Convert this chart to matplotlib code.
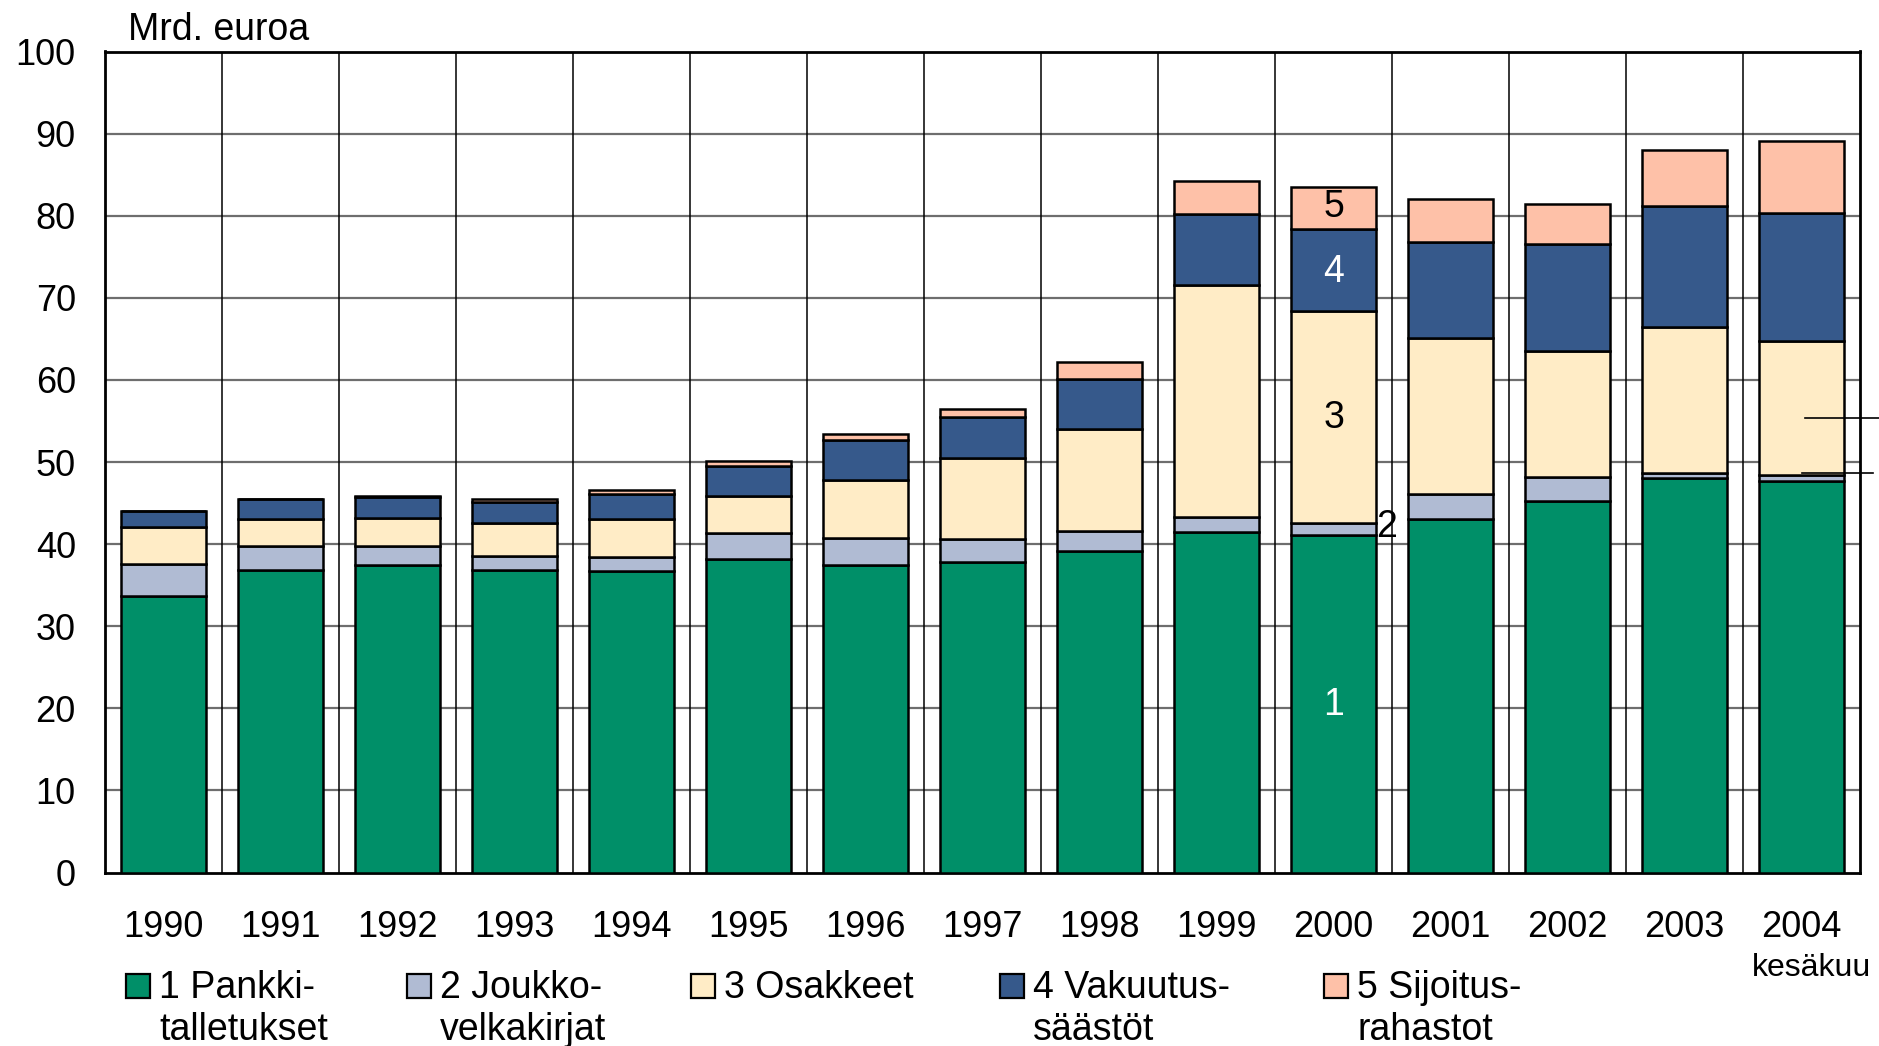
import matplotlib
matplotlib.use("Agg")
import matplotlib.pyplot as plt
from matplotlib.patches import Rectangle
import numpy as np

plt.rcParams['font.family'] = ['Liberation Sans', 'DejaVu Sans']

years = ["1990", "1991", "1992", "1993", "1994", "1995", "1996", "1997",
         "1998", "1999", "2000", "2001", "2002", "2003", "2004"]
pankki = [33.7, 36.8, 37.45, 36.85, 36.7, 38.2, 37.4, 37.85, 39.2, 41.5, 41.1, 43.1, 45.2, 48.0, 47.7]
joukko = [3.9, 3.0, 2.3, 1.65, 1.7, 3.1, 3.4, 2.8, 2.45, 1.8, 1.5, 3.05, 3.0, 0.7, 0.7]
osakkeet = [4.5, 3.3, 3.4, 4.1, 4.7, 4.6, 7.0, 9.8, 12.35, 28.2, 25.75, 18.9, 15.35, 17.75, 16.3]
vakuutus = [1.95, 2.4, 2.6, 2.5, 3.0, 3.6, 4.85, 5.0, 6.15, 8.7, 10.0, 11.75, 13.0, 14.75, 15.65]
sijoitus = [0.0, 0.0, 0.1, 0.4, 0.55, 0.6, 0.75, 1.0, 2.0, 4.0, 5.15, 5.25, 4.85, 6.8, 8.75]

series = [pankki, joukko, osakkeet, vakuutus, sijoitus]
legend_line1 = ["1 Pankki-", "2 Joukko-", "3 Osakkeet", "4 Vakuutus-", "5 Sijoitus-"]
legend_line2 = ["talletukset", "velkakirjat", "", "säästöt", "rahastot"]
colors = ["#008f68", "#b0bbd3", "#ffecc6", "#36598b", "#fec1a8"]
yticks = [0, 10, 20, 30, 40, 50, 60, 70, 80, 90, 100]

W, H = 1879, 1046
fig = plt.figure(figsize=(W / 100, H / 100), dpi=100)
ax = fig.add_axes([105 / W, 1 - 872.5 / H, (1860 - 105) / W, (872.5 - 51.5) / H])

x = np.arange(len(years))
bottom = np.zeros(len(years))
for vals, c in zip(series, colors):
    vals = np.array(vals)
    ax.bar(x, vals, width=0.72, bottom=bottom, color=c, edgecolor="black",
           linewidth=1.8, zorder=3)
    bottom += vals

ax.set_xlim(-0.5, len(years) - 0.5)
ax.set_ylim(0, 100)
ax.set_yticks(yticks)
ax.set_yticklabels([str(v) for v in yticks])
ax.set_xticks(x)
ax.set_xticklabels(years)
ax.tick_params(axis="both", length=0, labelsize=26)
ax.tick_params(axis="y", pad=21)
ax.tick_params(axis="x", pad=27)

# gridlines
for yv in yticks[1:-1]:
    ax.axhline(yv, color="#6e6e6e", linewidth=1.6, zorder=1)
for xv in np.arange(0.5, len(years) - 0.5, 1):
    ax.axvline(xv, color="black", linewidth=1.1, zorder=1)

for s in ax.spines.values():
    s.set_linewidth(2)
    s.set_color("black")

# annotations inside 2000 bar
fs = 27
ax.text(10, 20.4, "1", color="white", fontsize=fs, ha="center", va="center", zorder=5)
ax.text(10, 55.3, "3", color="black", fontsize=fs, ha="center", va="center", zorder=5)
ax.text(10, 73.1, "4", color="white", fontsize=fs, ha="center", va="center", zorder=5)
ax.text(10, 81.1, "5", color="black", fontsize=fs, ha="center", va="center", zorder=5)
ax.text(10.45, 42.1, "2", color="black", fontsize=fs, ha="center", va="center", zorder=5)

# leader lines at right edge
ax.plot([14.03, 14.7], [55.3, 55.3], color="black", linewidth=1.2, clip_on=False, zorder=6)
ax.plot([14.0, 14.61], [48.6, 48.6], color="black", linewidth=1.2, clip_on=False, zorder=6)

fig.text(128 / W, 1 - 40 / H, "Mrd. euroa", fontsize=fs, ha="left", va="baseline")
fig.text(1812 / W, 1 - 976 / H, "kesäkuu", fontsize=23, ha="center", va="baseline")

# legend
leg_x = [126, 407, 691, 1000, 1324]
for lx, l1, l2, c in zip(leg_x, legend_line1, legend_line2, colors):
    fig.patches.append(Rectangle((lx / W, 1 - 998 / H), 24 / W, 24 / H,
                                 transform=fig.transFigure, facecolor=c,
                                 edgecolor="black", linewidth=1.6))
    fig.text((lx + 33) / W, 1 - 998 / H, l1, fontsize=fs, ha="left", va="baseline")
    if l2:
        fig.text((lx + 33) / W, 1 - 1040 / H, l2, fontsize=fs, ha="left", va="baseline")

fig.savefig("out.png", dpi=100)
